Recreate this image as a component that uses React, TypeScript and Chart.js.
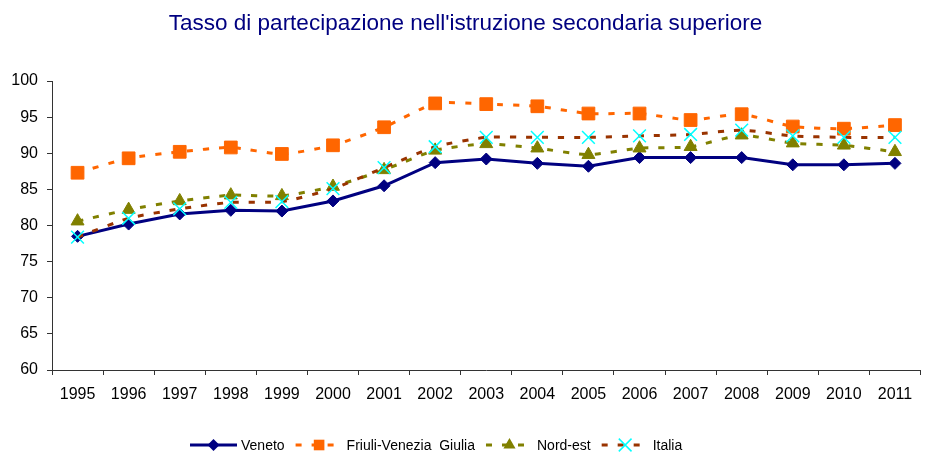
import React, { useEffect, useRef } from "react";
import { Chart, registerables } from "chart.js";

Chart.register(...registerables);

const TITLE = "Tasso di partecipazione nell'istruzione secondaria superiore";
const years = ["1995", "1996", "1997", "1998", "1999", "2000", "2001", "2002", "2003", "2004", "2005", "2006", "2007", "2008", "2009", "2010", "2011"];
const seriesNames = ["Veneto", "Friuli-Venezia  Giulia", "Nord-est", "Italia"];
const veneto = [78.5, 80.2, 81.6, 82.1, 82.0, 83.4, 85.5, 88.7, 89.2, 88.6, 88.2, 89.4, 89.4, 89.4, 88.4, 88.4, 88.6];
const friuli = [87.3, 89.3, 90.2, 90.8, 89.9, 91.1, 93.6, 96.9, 96.8, 96.5, 95.5, 95.5, 94.6, 95.4, 93.7, 93.4, 93.9];
const nordEst = [80.6, 82.2, 83.4, 84.2, 84.1, 85.4, 87.7, 90.4, 91.3, 90.7, 89.8, 90.7, 90.9, 92.5, 91.4, 91.1, 90.2];
const italia = [78.4, 81.0, 82.3, 83.2, 83.3, 85.1, 88.0, 90.9, 92.2, 92.2, 92.2, 92.4, 92.6, 93.2, 92.4, 92.2, 92.2];
const yTicks = { min: 60, max: 100, step: 5 };

const FONT = '"Liberation Sans", Arial, Helvetica, sans-serif';

function drawMarker(ctx: CanvasRenderingContext2D, style: string, x: number, y: number, r: number, color: string) {
  ctx.save();
  ctx.setLineDash([]);
  ctx.fillStyle = color;
  ctx.strokeStyle = color;
  ctx.beginPath();
  if (style === "rectRot") {
    ctx.moveTo(x - r, y);
    ctx.lineTo(x, y - r);
    ctx.lineTo(x + r, y);
    ctx.lineTo(x, y + r);
    ctx.closePath();
    ctx.fill();
  } else if (style === "rect") {
    const s = r * Math.SQRT1_2;
    ctx.rect(x - s, y - s, 2 * s, 2 * s);
    ctx.fill();
  } else if (style === "triangle") {
    const w = r * Math.sin((2 * Math.PI) / 3);
    ctx.moveTo(x, y - r);
    ctx.lineTo(x + w, y + r / 2);
    ctx.lineTo(x - w, y + r / 2);
    ctx.closePath();
    ctx.fill();
  } else if (style === "crossRot") {
    const s = r * Math.SQRT1_2;
    ctx.lineWidth = 1.5;
    ctx.moveTo(x - s, y - s);
    ctx.lineTo(x + s, y + s);
    ctx.moveTo(x + s, y - s);
    ctx.lineTo(x - s, y + s);
    ctx.stroke();
  }
  ctx.restore();
}

const legendPlugin = {
  id: "lineLegend",
  afterDraw(chart: any) {
    const ctx: CanvasRenderingContext2D = chart.ctx;
    const y = 445;
    let x = 190;
    ctx.save();
    ctx.font = `14px ${FONT}`;
    ctx.textBaseline = "middle";
    chart.data.datasets.forEach((ds: any) => {
      const segW = 47;
      ctx.strokeStyle = ds.borderColor;
      ctx.lineWidth = ds.borderWidth;
      ctx.setLineDash(ds.borderDash || []);
      ctx.beginPath();
      ctx.moveTo(x, y);
      ctx.lineTo(x + segW, y);
      ctx.stroke();
      ctx.setLineDash([]);
      drawMarker(ctx, ds.pointStyle, x + segW / 2, y, ds.legendRadius, ds.pointBackgroundColor);
      x += segW + 4;
      ctx.fillStyle = "#000";
      ctx.fillText(ds.label, x, y + 1);
      x += ctx.measureText(ds.label).width + 11;
    });
    ctx.restore();
  },
};

export default function App() {
  const ref = useRef<HTMLCanvasElement>(null);
  useEffect(() => {
    if (!ref.current) return;
    Chart.defaults.font.family = FONT;
    const chart = new Chart(ref.current, {
      type: "line",
      data: {
        labels: years,
        datasets: [
          {
            label: seriesNames[0],
            data: veneto,
            borderColor: "#000080",
            backgroundColor: "#000080",
            borderWidth: 3,
            pointStyle: "rectRot",
            pointRadius: 6,
            pointBackgroundColor: "#000080",
            pointBorderColor: "#000080",
            pointBorderWidth: 1,
            tension: 0,
            order: 4,
            legendRadius: 6,
          } as any,
          {
            label: seriesNames[1],
            data: friuli,
            borderColor: "#FF6600",
            backgroundColor: "#FF6600",
            borderWidth: 3,
            borderDash: [6, 10],
            pointStyle: "rect",
            pointRadius: 9,
            pointBackgroundColor: "#FF6600",
            pointBorderColor: "#FF6600",
            pointBorderWidth: 1,
            tension: 0.2,
            order: 3,
            legendRadius: 7.5,
          } as any,
          {
            label: seriesNames[2],
            data: nordEst,
            borderColor: "#808000",
            backgroundColor: "#808000",
            borderWidth: 3,
            borderDash: [6, 10],
            pointStyle: "triangle",
            pointRadius: 7.5,
            pointBackgroundColor: "#808000",
            pointBorderColor: "#808000",
            pointBorderWidth: 1,
            tension: 0.2,
            order: 2,
            legendRadius: 7,
          } as any,
          {
            label: seriesNames[3],
            data: italia,
            borderColor: "#993300",
            backgroundColor: "#993300",
            borderWidth: 3,
            borderDash: [6, 10],
            pointStyle: "crossRot",
            pointRadius: 9,
            pointBackgroundColor: "#00FFFF",
            pointBorderColor: "#00FFFF",
            pointBorderWidth: 1.5,
            tension: 0.2,
            order: 1,
            legendRadius: 9,
          } as any,
        ],
      },
      options: {
        animation: false,
        responsive: false,
        maintainAspectRatio: false,
        layout: { padding: 0 },
        plugins: {
          legend: { display: false },
          tooltip: { enabled: false },
          title: {
            display: true,
            text: TITLE,
            color: "#000080",
            font: { family: FONT, size: 22.5, weight: "normal" as any, lineHeight: 1.2 },
            padding: { top: 10, bottom: 44 },
          },
        },
        scales: {
          x: {
            type: "category",
            offset: true,
            grid: { offset: true, drawOnChartArea: false, drawTicks: true, tickLength: 5, color: "#333" },
            border: { color: "#333", width: 1 },
            ticks: { color: "#000", font: { family: FONT, size: 16 }, padding: 10, maxRotation: 0, autoSkip: false },
            afterFit: (s: any) => {
              s.height = 82;
            },
          },
          y: {
            min: yTicks.min,
            max: yTicks.max,
            grid: { drawOnChartArea: false, drawTicks: true, tickLength: 5, color: "#333" },
            border: { color: "#333", width: 1 },
            ticks: { stepSize: yTicks.step, color: "#000", font: { family: FONT, size: 16 }, padding: 9 },
            afterFit: (s: any) => {
              s.width = 52;
            },
          },
        },
      },
      plugins: [legendPlugin],
    });
    return () => chart.destroy();
  }, []);

  return (
    <div style={{ position: "fixed", left: 0, top: 0, width: 927, height: 452, overflow: "hidden", background: "#fff" }}>
      <canvas ref={ref} width={931} height={452} style={{ display: "block", width: 931, height: 452 }} />
    </div>
  );
}
